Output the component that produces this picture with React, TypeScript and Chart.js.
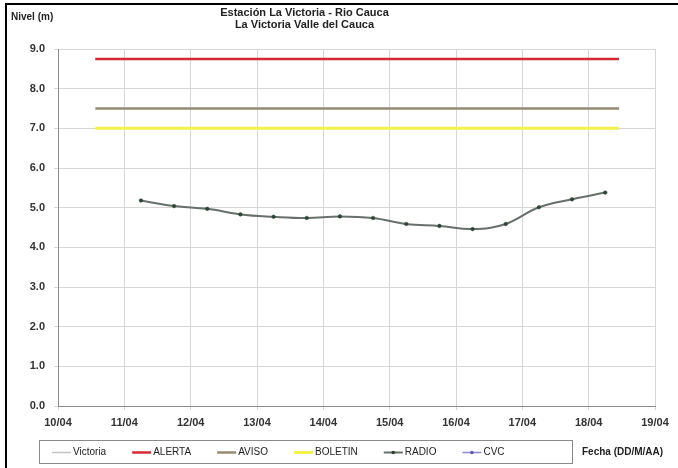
import React, { useEffect, useRef } from "react";
import { Chart, registerables } from "chart.js";

Chart.register(...registerables);

// ---- data ----
const tickLabels = ["10/04", "11/04", "12/04", "13/04", "14/04", "15/04", "16/04", "17/04", "18/04", "19/04"];
const radioTimes = [
  "11/04 06:00", "11/04 18:00", "12/04 06:00", "12/04 18:00", "13/04 06:00",
  "13/04 18:00", "14/04 06:00", "14/04 18:00", "15/04 06:00", "15/04 18:00",
  "16/04 06:00", "16/04 18:00", "17/04 06:00", "17/04 18:00", "18/04 06:00",
];
const radioLevels = [5.18, 5.04, 4.97, 4.83, 4.77, 4.74, 4.78, 4.74, 4.59, 4.54, 4.46, 4.59, 5.01, 5.21, 5.38];
const thresholdTimes = ["10/04 13:30", "18/04 11:00"];
const alertaLevel = 8.75;
const avisoLevel = 7.5;
const boletinLevel = 7.0;
const seriesNames = ["Victoria", "ALERTA", "AVISO", "BOLETIN", "RADIO", "CVC"];
const titleLines = ["Estación La Victoria - Rio Cauca", "La Victoria Valle del Cauca"];
const yTitle = "Nivel (m)";
const xTitle = "Fecha (DD/M/AA)";

const baseDay = 10;
function toDay(s: string): number {
  const [d, t] = s.split(" ");
  const day = parseInt(d.split("/")[0], 10);
  const [hh, mm] = (t || "00:00").split(":").map((v) => parseInt(v, 10));
  return day - baseDay + hh / 24 + mm / 1440;
}

const FONT = "'Liberation Sans', Arial, sans-serif";

const decorPlugin = {
  id: "decor",
  afterDraw(chart: any) {
    const ctx = chart.ctx;
    const ca = chart.chartArea;
    ctx.save();
    // frame
    ctx.fillStyle = "#000";
    ctx.fillRect(5, 3, 2, 465);
    ctx.fillRect(5, 3, 673, 2);
    // title
    ctx.fillStyle = "#222";
    ctx.textAlign = "center";
    ctx.textBaseline = "middle";
    ctx.font = `bold 11px ${FONT}`;
    const cx = (ca.left + ca.right) / 2 - 52;
    ctx.fillText(titleLines[0], cx, 13);
    ctx.fillText(titleLines[1], cx, 25);
    // y title
    ctx.textAlign = "left";
    ctx.font = `bold 10px ${FONT}`;
    ctx.fillText(yTitle, 11, 17);
    // legend box
    const bx = 39, by = 440, bw = 533, bh = 23;
    ctx.strokeStyle = "#8a8a8a";
    ctx.lineWidth = 1;
    ctx.strokeRect(bx + 0.5, by + 0.5, bw, bh);
    ctx.font = `10px ${FONT}`;
    ctx.textBaseline = "middle";
    let x = bx + 13;
    const y = by + bh / 2 + 1;
    chart.data.datasets.forEach((ds: any) => {
      ctx.strokeStyle = ds.borderColor;
      ctx.lineWidth = Math.max(1.5, ds.borderWidth);
      ctx.beginPath();
      ctx.moveTo(x, y);
      ctx.lineTo(x + 19, y);
      ctx.stroke();
      if (ds.legendMarker) {
        ctx.fillStyle = ds.pointBackgroundColor;
        ctx.beginPath();
        ctx.arc(x + 9.5, y, 1.8, 0, Math.PI * 2);
        ctx.fill();
      }
      ctx.fillStyle = "#222";
      ctx.fillText(ds.label, x + 21, y);
      x += 21 + ctx.measureText(ds.label).width + 26;
    });
    // x title
    ctx.font = `bold 10px ${FONT}`;
    ctx.fillStyle = "#222";
    ctx.fillText(xTitle, 582, 452);
    ctx.restore();
  },
};

export default function App() {
  const ref = useRef<HTMLCanvasElement>(null);
  useEffect(() => {
    if (!ref.current) return;
    const tStart = toDay(thresholdTimes[0]);
    const tEnd = toDay(thresholdTimes[1]);
    const hline = (v: number) => [
      { x: tStart, y: v },
      { x: tEnd, y: v },
    ];
    const chart = new Chart(ref.current, {
      type: "line",
      data: {
        datasets: [
          { label: seriesNames[0], data: [], borderColor: "#c4c4c4", borderWidth: 1.5, pointRadius: 0 },
          { label: seriesNames[1], data: hline(alertaLevel), borderColor: "#d42a36", borderWidth: 2.5, pointRadius: 0 },
          { label: seriesNames[2], data: hline(avisoLevel), borderColor: "#968a74", borderWidth: 2.5, pointRadius: 0 },
          { label: seriesNames[3], data: hline(boletinLevel), borderColor: "#f2f24a", borderWidth: 3, pointRadius: 0 },
          {
            label: seriesNames[4],
            data: radioTimes.map((t, i) => ({ x: toDay(t), y: radioLevels[i] })),
            borderColor: "#67706b",
            borderWidth: 2,
            pointRadius: 1.8,
            pointBackgroundColor: "#2c4434",
            pointBorderColor: "#2c4434",
            pointBorderWidth: 0.5,
            tension: 0.4,
            legendMarker: true,
          } as any,
          {
            label: seriesNames[5],
            data: [],
            borderColor: "#8a8ad0",
            borderWidth: 1.5,
            pointBackgroundColor: "#5a5aa8",
            legendMarker: true,
          } as any,
        ],
      },
      options: {
        responsive: false,
        animation: false,
        parsing: false as any,
        layout: { padding: { left: 0, right: 23, top: 49, bottom: 0 } },
        plugins: { legend: { display: false }, title: { display: false }, tooltip: { enabled: false } },
        scales: {
          x: {
            type: "linear",
            min: 0,
            max: 9,
            afterFit: (s: any) => {
              s.height = 62;
            },
            grid: { color: "#d6d6d6", tickLength: 4, drawTicks: true },
            border: { color: "#8c8c8c" },
            ticks: {
              stepSize: 1,
              padding: 6,
              color: "#333",
              font: { family: FONT, size: 11, weight: "bold" },
              maxRotation: 0,
              callback: (v: any) => tickLabels[Math.round(v)] ?? "",
            },
          },
          y: {
            min: 0,
            max: 9,
            afterFit: (s: any) => {
              s.width = 58;
            },
            grid: { color: "#d6d6d6", tickLength: 4 },
            border: { color: "#8c8c8c" },
            ticks: {
              stepSize: 1,
              padding: 9,
              color: "#333",
              font: { family: FONT, size: 11, weight: "bold" },
              callback: (v: any) => Number(v).toFixed(1),
            },
          },
        },
      },
      plugins: [decorPlugin],
    });
    return () => chart.destroy();
  }, []);
  return (
    <div style={{ position: "fixed", left: 0, top: 0, width: 678, height: 468, background: "#fff" }}>
      <canvas ref={ref} width={678} height={468} style={{ display: "block" }} />
    </div>
  );
}
